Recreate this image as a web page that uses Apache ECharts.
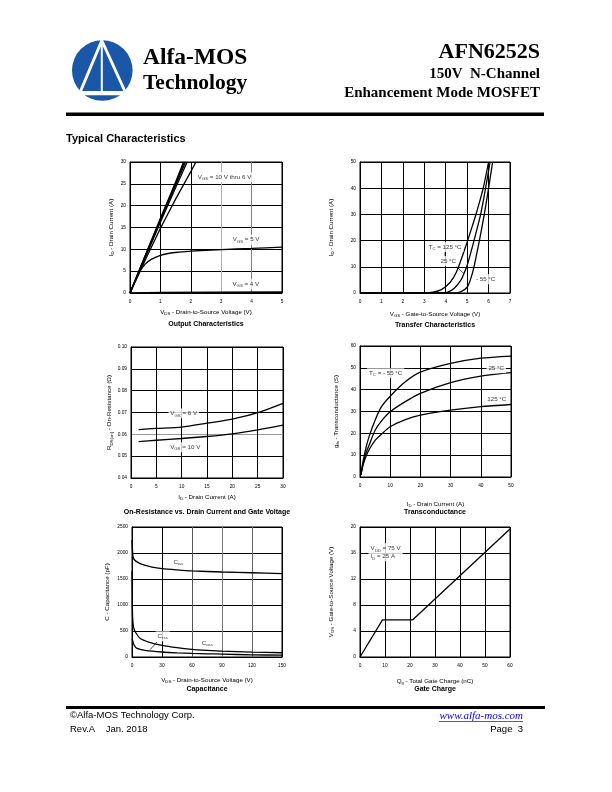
<!DOCTYPE html>
<html><head><meta charset="utf-8">
<script src="https://cdn.jsdelivr.net/npm/echarts@6/dist/echarts.min.js"></script>
<style>html,body{margin:0;padding:0;background:#fff}#c{width:612px;height:792px}</style>
</head><body><div id="c"></div>
<script>
// ---------- DATA ----------
// Output characteristics: [VDS (V), ID (A)]
const out10V = [[0,0],[0.5,8.6],[1,17.1],[1.5,25.4],[1.76,30]];
const out9V  = [[0,0],[0.5,8.5],[1,16.9],[1.5,25.1],[1.79,30]];
const out8V  = [[0,0],[0.5,8.3],[1,16.6],[1.5,24.7],[1.83,30]];
const out7V  = [[0,0],[0.5,8.1],[1,16.2],[1.5,24.1],[1.88,30]];
const out6V  = [[0,0],[0.5,7.5],[1,14.8],[1.5,21.5],[2,27.8],[2.17,30]];
const out5V  = [[0,0],[0.3,4.6],[0.5,6.6],[0.7,7.7],[1,8.6],[1.3,9.1],[1.6,9.35],[2,9.6],[3,9.95],[4,10.2],[5,10.5]];
const out4V  = [[0,0],[1,0.1],[5,0.2]];
// Transfer characteristics: [VGS (V), ID (A)]
const tr125 = [[0,0],[3,0],[3.4,0.3],[3.8,1.3],[4.2,4],[4.5,8],[4.9,17],[5.2,24.5],[5.45,31],[5.75,40],[6.0,50]];
const tr25  = [[0,0],[3.8,0],[4.1,0.3],[4.4,1.8],[4.7,4.8],[4.85,7.4],[5.0,10.5],[5.32,20],[5.63,30],[5.86,40],[6.07,50]];
const trM55 = [[0,0],[4.4,0],[4.7,0.4],[5.0,2.2],[5.15,5],[5.32,10],[5.57,20],[5.8,30],[6.0,40],[6.19,50]];
// On-resistance: [ID (A), RDS(on) (ohm)]
const rds6V  = [[1.5,0.0622],[5,0.0627],[10,0.0633],[15,0.0651],[20,0.067],[25,0.0699],[30,0.0742]];
const rds10V = [[1.5,0.0567],[5,0.0573],[10,0.0581],[15,0.059],[20,0.0602],[25,0.062],[30,0.0642]];
// Transconductance: [ID (A), gfs (S)]
const gmM55 = [[0.3,1],[1,7],[2,13.5],[3,18.5],[5,26],[7,32],[10,37],[15,43.6],[20,48],[30,52],[40,54.4],[50,55.4]];
const gm25  = [[0.3,1],[1,6],[2,11],[3,14.5],[5,21.4],[7,25.5],[10,29.9],[15,34.5],[20,38.3],[30,43.2],[40,46.2],[50,47.8]];
const gm125 = [[0.3,1],[1,5.5],[2,9.5],[3,12.5],[5,16.8],[7,19.5],[10,23],[15,26.3],[20,28.3],[30,30.6],[40,32.2],[50,33.2]];
// Capacitance: [VDS (V), C (pF)]
const ciss = [[0,2250],[0.5,2050],[1,1930],[2,1880],[5,1830],[10,1780],[20,1730],[30,1700],[45,1675],[60,1655],[90,1635],[120,1620],[150,1605]];
const coss = [[0,1650],[0.3,1100],[0.6,770],[1.5,580],[3.3,480],[8.3,355],[16.6,288],[30,225],[45,180],[60,148],[75,128],[90,112],[120,95],[150,82]];
const crss = [[0,340],[0.6,320],[2,230],[5,165],[13,129],[30,96],[45,80],[60,70],[75,62],[90,55],[120,42],[150,35]];
// Gate charge
const qgCharge = [0, 9, 21, 60];
const qgVgs    = [0, 5.7, 5.7, 19.7];

// ---------- HELPERS ----------
const F = 'Liberation Sans';
const rich = {
  n: {fontSize: 6.2, lineHeight: 8, fontFamily: F, color: '#000'},
  s: {fontSize: 4.3, lineHeight: 4.5, verticalAlign: 'bottom', fontFamily: F, color: '#000'}
};
const sub = (a, b, c) => `{n|${a}}{s|${b}}{n|${c}}`;

const grids = [
  {left:130, top:162, width:152, height:131},
  {left:360, top:162, width:150, height:131},
  {left:131, top:347, width:152, height:131},
  {left:360, top:346, width:151, height:131},
  {left:132, top:527, width:150, height:130},
  {left:360, top:527, width:150, height:130}
].map(g => Object.assign({show:true, borderColor:'#000', borderWidth:1, backgroundColor:'#fff', containLabel:false, outerBoundsMode:'none'}, g));

function axis(i, min, max, interval, name, gap, colors, fmt, isY) {
  return {
    gridIndex: i, type: 'value', min, max, interval,
    axisLine: {show: true, onZero: false, lineStyle: {color: '#000', width: 1}},
    axisTick: {show: false},
    axisLabel: {fontSize: 4.8, color: '#000', fontFamily: F, margin: isY ? 4 : 6, formatter: fmt || (v => String(v))},
    splitLine: {show: true, lineStyle: {color: colors || '#000', width: 1}},
    name, nameLocation: 'middle', nameGap: gap, nameRotate: isY ? 90 : 0,
    nameTextStyle: {rich, fontFamily: F}
  };
}
const xAxes = [
  axis(0, 0, 5, 1, sub('V','DS',' - Drain-to-Source Voltage (V)'), 15, ['#000','#000','#000','#b0b0b0','#808080','#000']),
  axis(1, 0, 7, 1, sub('V','GS',' - Gate-to-Source Voltage (V)'), 17),
  axis(2, 0, 30, 5, sub('I','D',' - Drain Current (A)'), 15),
  axis(3, 0, 50, 10, sub('I','D',' - Drain Current (A)'), 23),
  axis(4, 0, 150, 30, sub('V','DS',' - Drain-to-Source Voltage (V)'), 19, ['#000','#000','#555','#777','#666','#000']),
  axis(5, 0, 60, 10, sub('Q','g',' - Total Gate Charge (nC)'), 20)
];
const yAxes = [
  axis(0, 0, 30, 5, sub('I','D',' - Drain Current (A)'), 15, null, null, true),
  axis(1, 0, 50, 10, sub('I','D',' - Drain Current (A)'), 25, null, null, true),
  axis(2, 0.04, 0.10, 0.01, sub('R','DS(on)',' - On-Resistance (Ω)'), 16, ['#000','#000','#999','#000','#000','#000','#000'], v => v.toFixed(2), true),
  axis(3, 0, 60, 10, sub('g','fs',' - Transconductance (S)'), 20, null, null, true),
  axis(4, 0, 2500, 500, '{n|C - Capacitance (pF)}', 21, null, null, true),
  axis(5, 0, 20, 4, sub('V','GS',' - Gate-to-Source Voltage (V)'), 25, null, null, true)
];

function ln(i, data, extra) {
  return Object.assign({type:'line', xAxisIndex:i, yAxisIndex:i, data, symbol:'none', showSymbol:false,
    smooth:0.25, lineStyle:{color:'#000', width:1.3}, silent:true, z:3, animation:false}, extra || {});
}
function leader(i, data) {
  return ln(i, data, {smooth:false, lineStyle:{color:'#000', width:0.7}, z:5});
}
function ann(i, x, y, text, bg, pos) {
  return {type:'scatter', xAxisIndex:i, yAxisIndex:i, symbolSize:1, itemStyle:{color:'rgba(0,0,0,0)'}, silent:true, z:6,
    data:[{value:[x,y], label:{show:true, position: pos || 'inside', distance:0, formatter:text, rich,
      backgroundColor: bg ? '#fff' : 'transparent', padding: bg ? [1,2] : 0, align: pos === 'right' ? 'left' : 'center'}}]};
}

const series = [
  ln(0, out10V, {smooth:0.15}), ln(0, out9V, {smooth:0.15}), ln(0, out8V, {smooth:0.15}), ln(0, out7V, {smooth:0.15}), ln(0, out6V, {smooth:0.15}),
  ln(0, out5V), ln(0, out4V, {lineStyle:{color:'#000', width:1.6}}),
  ann(0, 3.11, 26.5, sub('V','GS',' = 10 V thru 6 V'), true),
  ann(0, 3.82, 12.2, sub('V','GS',' = 5 V'), true),
  ann(0, 3.81, 2.0, sub('V','GS',' = 4 V'), true),

  ln(1, tr125), ln(1, tr25), ln(1, trM55),
  ann(1, 3.97, 17.6, sub('T','C',' = 125 °C'), true),
  ann(1, 4.12, 12.2, '{n|25 °C}', true),
  ann(1, 5.86, 5.25, '{n|- 55 °C}', true),
  leader(1, [[3.97,15.6],[3.97,13.9]]),
  leader(1, [[4.51,10],[4.85,7.4]]),

  ln(2, rds6V), ln(2, rds10V),
  ann(2, 10.4, 0.0696, sub('V','GS',' = 6 V'), true),
  ann(2, 10.7, 0.0541, sub('V','GS',' = 10 V'), true),

  ln(3, gmM55), ln(3, gm25), ln(3, gm125),
  ann(3, 8.5, 47.5, sub('T','C',' = - 55 °C'), true),
  ann(3, 45.1, 49.8, '{n|25 °C}', true),
  ann(3, 45.3, 35.7, '{n|125 °C}', true),

  ln(4, ciss), ln(4, coss), ln(4, crss),
  ann(4, 46.4, 1827, sub('C','iss',''), true),
  ann(4, 30.7, 398, sub('C','rss',''), true),
  ann(4, 75.3, 269, sub('C','oss',''), true),
  leader(4, [[24.9,288],[18.2,142]]),

  ln(5, qgCharge.map((q, k) => [q, qgVgs[k]]), {smooth:false}),
  ann(5, 3.2, 16.1, sub('V','DD',' = 75 V') + '\n' + sub('I','D',' = 25 A'), true, 'right')
];

function txt(x, y, text, font, align, fill) {
  return {type:'text', x, y, silent:true, z:10,
    style:{text, font, fill: fill || '#000', align: align || 'left', verticalAlign:'middle'}};
}
const titleFont = 'bold 7px "Liberation Sans"';
const graphic = [
  // logo
  {type:'circle', shape:{cx:102.3, cy:70.5, r:30.3}, style:{fill:'#1b57a7'}, silent:true},
  {type:'polyline', shape:{points:[[80,92.5],[101.8,40.5],[125.5,92.5]]}, style:{stroke:'#fff', lineWidth:2.9, fill:null}, silent:true},
  {type:'line', shape:{x1:101.8, y1:41, x2:101.8, y2:92}, style:{stroke:'#fff', lineWidth:2}, silent:true},
  {type:'rect', shape:{x:70, y:91, width:66, height:4.3}, style:{fill:'#fff'}, silent:true},
  txt(143, 57.5, 'Alfa-MOS', 'bold 23.5px "Liberation Serif"'),
  txt(143, 83, 'Technology', 'bold 21.5px "Liberation Serif"'),
  txt(540, 52.5, 'AFN6252S', 'bold 22px "Liberation Serif"', 'right'),
  txt(540, 74, '150V  N-Channel', 'bold 15px "Liberation Serif"', 'right'),
  txt(540, 93, 'Enhancement Mode MOSFET', 'bold 15px "Liberation Serif"', 'right'),
  {type:'rect', shape:{x:66, y:112.5, width:478, height:3.5}, style:{fill:'#000'}, silent:true},
  txt(66, 138.5, 'Typical Characteristics', 'bold 11px "Liberation Sans"'),
  // chart titles
  txt(206, 324.5, 'Output Characteristics', titleFont, 'center'),
  txt(435, 325, 'Transfer Characteristics', titleFont, 'center'),
  txt(207, 512.5, 'On-Resistance vs. Drain Current and Gate Voltage', titleFont, 'center'),
  txt(435, 512.5, 'Transconductance', titleFont, 'center'),
  txt(207, 689.5, 'Capacitance', titleFont, 'center'),
  txt(435, 689.5, 'Gate Charge', titleFont, 'center'),
  // footer
  {type:'rect', shape:{x:66, y:706, width:479, height:3}, style:{fill:'#000'}, silent:true},
  txt(70, 715.5, '©Alfa-MOS Technology Corp.', '9.5px "Liberation Sans"'),
  txt(70, 729, 'Rev.A    Jan. 2018', '9.5px "Liberation Sans"'),
  txt(523, 716.5, 'www.alfa-mos.com', 'italic 11px "Liberation Serif"', 'right', '#0000ee'),
  {type:'line', shape:{x1:439, y1:721.5, x2:523, y2:721.5}, style:{stroke:'#0000ee', lineWidth:0.7}, silent:true},
  txt(523, 729.5, 'Page  3', '9.5px "Liberation Sans"', 'right')
];

const chart = echarts.init(document.getElementById('c'), null, {renderer:'canvas', width:612, height:792});
chart.setOption({
  animation:false,
  backgroundColor:'#fff',
  textStyle:{fontFamily:F},
  grid: grids,
  xAxis: xAxes,
  yAxis: yAxes,
  series,
  graphic
});
</script></body></html>
